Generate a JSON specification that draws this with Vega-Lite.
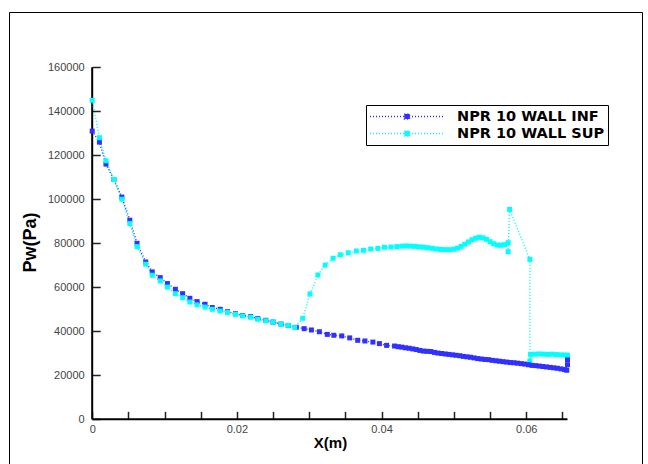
{
  "$schema": "https://vega.github.io/schema/vega-lite/v6.json",
  "width": 633,
  "height": 460,
  "autosize": {"type": "none"},
  "padding": {"left": 9, "top": 12, "right": 6, "bottom": 0},
  "background": "white",
  "config": {"view": {"stroke": "black", "strokeWidth": 1}},
  "datasets": {
    "axes": [
      {"x": 0, "p": 0, "x2": 0.0657, "p2": 0},
      {"x": 0, "p": 0, "x2": 0, "p2": 160000}
    ],
    "curves": [
      {"s": "NPR 10 WALL INF", "i": 0, "x": 0, "p": 131000},
      {"s": "NPR 10 WALL INF", "i": 1, "x": 0.001, "p": 126000},
      {"s": "NPR 10 WALL INF", "i": 2, "x": 0.0019, "p": 116000},
      {"s": "NPR 10 WALL INF", "i": 3, "x": 0.003, "p": 109000},
      {"s": "NPR 10 WALL INF", "i": 4, "x": 0.0041, "p": 101000},
      {"s": "NPR 10 WALL INF", "i": 5, "x": 0.0052, "p": 90500},
      {"s": "NPR 10 WALL INF", "i": 6, "x": 0.0062, "p": 80000},
      {"s": "NPR 10 WALL INF", "i": 7, "x": 0.0074, "p": 71500},
      {"s": "NPR 10 WALL INF", "i": 8, "x": 0.0083, "p": 67000},
      {"s": "NPR 10 WALL INF", "i": 9, "x": 0.0094, "p": 64400},
      {"s": "NPR 10 WALL INF", "i": 10, "x": 0.0104, "p": 61700},
      {"s": "NPR 10 WALL INF", "i": 11, "x": 0.0115, "p": 59100},
      {"s": "NPR 10 WALL INF", "i": 12, "x": 0.0125, "p": 57100},
      {"s": "NPR 10 WALL INF", "i": 13, "x": 0.0135, "p": 55000},
      {"s": "NPR 10 WALL INF", "i": 14, "x": 0.0145, "p": 53500},
      {"s": "NPR 10 WALL INF", "i": 15, "x": 0.0156, "p": 52300},
      {"s": "NPR 10 WALL INF", "i": 16, "x": 0.0166, "p": 50800},
      {"s": "NPR 10 WALL INF", "i": 17, "x": 0.0177, "p": 50000},
      {"s": "NPR 10 WALL INF", "i": 18, "x": 0.0187, "p": 48900},
      {"s": "NPR 10 WALL INF", "i": 19, "x": 0.0198, "p": 48000},
      {"s": "NPR 10 WALL INF", "i": 20, "x": 0.0208, "p": 47200},
      {"s": "NPR 10 WALL INF", "i": 21, "x": 0.0219, "p": 46700},
      {"s": "NPR 10 WALL INF", "i": 22, "x": 0.0229, "p": 45800},
      {"s": "NPR 10 WALL INF", "i": 23, "x": 0.024, "p": 45000},
      {"s": "NPR 10 WALL INF", "i": 24, "x": 0.025, "p": 44200},
      {"s": "NPR 10 WALL INF", "i": 25, "x": 0.0261, "p": 43300},
      {"s": "NPR 10 WALL INF", "i": 26, "x": 0.0271, "p": 42600},
      {"s": "NPR 10 WALL INF", "i": 27, "x": 0.0282, "p": 41800},
      {"s": "NPR 10 WALL INF", "i": 28, "x": 0.0293, "p": 41200},
      {"s": "NPR 10 WALL INF", "i": 29, "x": 0.0303, "p": 40600},
      {"s": "NPR 10 WALL INF", "i": 30, "x": 0.0314, "p": 39800},
      {"s": "NPR 10 WALL INF", "i": 31, "x": 0.0325, "p": 38600},
      {"s": "NPR 10 WALL INF", "i": 32, "x": 0.0334, "p": 38200},
      {"s": "NPR 10 WALL INF", "i": 33, "x": 0.0345, "p": 37900},
      {"s": "NPR 10 WALL INF", "i": 34, "x": 0.0356, "p": 37000},
      {"s": "NPR 10 WALL INF", "i": 35, "x": 0.0367, "p": 35900},
      {"s": "NPR 10 WALL INF", "i": 36, "x": 0.0377, "p": 35600},
      {"s": "NPR 10 WALL INF", "i": 37, "x": 0.0388, "p": 35100},
      {"s": "NPR 10 WALL INF", "i": 38, "x": 0.0397, "p": 34400},
      {"s": "NPR 10 WALL INF", "i": 39, "x": 0.0407, "p": 33600},
      {"s": "NPR 10 WALL INF", "i": 40, "x": 0.0418, "p": 33300},
      {"s": "NPR 10 WALL INF", "i": 41, "x": 0.0423, "p": 33000},
      {"s": "NPR 10 WALL INF", "i": 42, "x": 0.0428, "p": 32800},
      {"s": "NPR 10 WALL INF", "i": 43, "x": 0.0433, "p": 32500},
      {"s": "NPR 10 WALL INF", "i": 44, "x": 0.0438, "p": 32300},
      {"s": "NPR 10 WALL INF", "i": 45, "x": 0.0443, "p": 32000},
      {"s": "NPR 10 WALL INF", "i": 46, "x": 0.0448, "p": 31700},
      {"s": "NPR 10 WALL INF", "i": 47, "x": 0.0453, "p": 31300},
      {"s": "NPR 10 WALL INF", "i": 48, "x": 0.0458, "p": 31000},
      {"s": "NPR 10 WALL INF", "i": 49, "x": 0.0463, "p": 30900},
      {"s": "NPR 10 WALL INF", "i": 50, "x": 0.0468, "p": 30800},
      {"s": "NPR 10 WALL INF", "i": 51, "x": 0.0473, "p": 30400},
      {"s": "NPR 10 WALL INF", "i": 52, "x": 0.0478, "p": 30100},
      {"s": "NPR 10 WALL INF", "i": 53, "x": 0.0483, "p": 29900},
      {"s": "NPR 10 WALL INF", "i": 54, "x": 0.0488, "p": 29700},
      {"s": "NPR 10 WALL INF", "i": 55, "x": 0.0493, "p": 29500},
      {"s": "NPR 10 WALL INF", "i": 56, "x": 0.0498, "p": 29300},
      {"s": "NPR 10 WALL INF", "i": 57, "x": 0.0503, "p": 29100},
      {"s": "NPR 10 WALL INF", "i": 58, "x": 0.0508, "p": 28900},
      {"s": "NPR 10 WALL INF", "i": 59, "x": 0.0513, "p": 28600},
      {"s": "NPR 10 WALL INF", "i": 60, "x": 0.0518, "p": 28400},
      {"s": "NPR 10 WALL INF", "i": 61, "x": 0.0523, "p": 28200},
      {"s": "NPR 10 WALL INF", "i": 62, "x": 0.0528, "p": 27900},
      {"s": "NPR 10 WALL INF", "i": 63, "x": 0.0533, "p": 27600},
      {"s": "NPR 10 WALL INF", "i": 64, "x": 0.0538, "p": 27400},
      {"s": "NPR 10 WALL INF", "i": 65, "x": 0.0543, "p": 27200},
      {"s": "NPR 10 WALL INF", "i": 66, "x": 0.0548, "p": 27100},
      {"s": "NPR 10 WALL INF", "i": 67, "x": 0.0553, "p": 26800},
      {"s": "NPR 10 WALL INF", "i": 68, "x": 0.0558, "p": 26600},
      {"s": "NPR 10 WALL INF", "i": 69, "x": 0.0563, "p": 26400},
      {"s": "NPR 10 WALL INF", "i": 70, "x": 0.0568, "p": 26200},
      {"s": "NPR 10 WALL INF", "i": 71, "x": 0.0573, "p": 26000},
      {"s": "NPR 10 WALL INF", "i": 72, "x": 0.0578, "p": 25800},
      {"s": "NPR 10 WALL INF", "i": 73, "x": 0.0583, "p": 25700},
      {"s": "NPR 10 WALL INF", "i": 74, "x": 0.0588, "p": 25500},
      {"s": "NPR 10 WALL INF", "i": 75, "x": 0.0593, "p": 25300},
      {"s": "NPR 10 WALL INF", "i": 76, "x": 0.0598, "p": 25100},
      {"s": "NPR 10 WALL INF", "i": 77, "x": 0.0603, "p": 24800},
      {"s": "NPR 10 WALL INF", "i": 78, "x": 0.0608, "p": 24500},
      {"s": "NPR 10 WALL INF", "i": 79, "x": 0.0613, "p": 24400},
      {"s": "NPR 10 WALL INF", "i": 80, "x": 0.0618, "p": 24200},
      {"s": "NPR 10 WALL INF", "i": 81, "x": 0.0623, "p": 24000},
      {"s": "NPR 10 WALL INF", "i": 82, "x": 0.0628, "p": 23800},
      {"s": "NPR 10 WALL INF", "i": 83, "x": 0.0633, "p": 23600},
      {"s": "NPR 10 WALL INF", "i": 84, "x": 0.0638, "p": 23400},
      {"s": "NPR 10 WALL INF", "i": 85, "x": 0.0643, "p": 23200},
      {"s": "NPR 10 WALL INF", "i": 86, "x": 0.0648, "p": 22900},
      {"s": "NPR 10 WALL INF", "i": 87, "x": 0.0653, "p": 22600},
      {"s": "NPR 10 WALL INF", "i": 88, "x": 0.0656, "p": 22300},
      {"s": "NPR 10 WALL INF", "i": 89, "x": 0.0657, "p": 24800},
      {"s": "NPR 10 WALL INF", "i": 90, "x": 0.0657, "p": 27000},
      {"s": "NPR 10 WALL SUP", "i": 0, "x": 0, "p": 145000},
      {"s": "NPR 10 WALL SUP", "i": 1, "x": 0.001, "p": 128000},
      {"s": "NPR 10 WALL SUP", "i": 2, "x": 0.0019, "p": 117500},
      {"s": "NPR 10 WALL SUP", "i": 3, "x": 0.003, "p": 109000},
      {"s": "NPR 10 WALL SUP", "i": 4, "x": 0.0041, "p": 100000},
      {"s": "NPR 10 WALL SUP", "i": 5, "x": 0.0052, "p": 89000},
      {"s": "NPR 10 WALL SUP", "i": 6, "x": 0.0062, "p": 78500},
      {"s": "NPR 10 WALL SUP", "i": 7, "x": 0.0074, "p": 70500},
      {"s": "NPR 10 WALL SUP", "i": 8, "x": 0.0083, "p": 65500},
      {"s": "NPR 10 WALL SUP", "i": 9, "x": 0.0094, "p": 62900},
      {"s": "NPR 10 WALL SUP", "i": 10, "x": 0.0104, "p": 60100},
      {"s": "NPR 10 WALL SUP", "i": 11, "x": 0.0115, "p": 57100},
      {"s": "NPR 10 WALL SUP", "i": 12, "x": 0.0125, "p": 55300},
      {"s": "NPR 10 WALL SUP", "i": 13, "x": 0.0135, "p": 53300},
      {"s": "NPR 10 WALL SUP", "i": 14, "x": 0.0145, "p": 52000},
      {"s": "NPR 10 WALL SUP", "i": 15, "x": 0.0156, "p": 51000},
      {"s": "NPR 10 WALL SUP", "i": 16, "x": 0.0166, "p": 50000},
      {"s": "NPR 10 WALL SUP", "i": 17, "x": 0.0177, "p": 49200},
      {"s": "NPR 10 WALL SUP", "i": 18, "x": 0.0187, "p": 48500},
      {"s": "NPR 10 WALL SUP", "i": 19, "x": 0.0198, "p": 47700},
      {"s": "NPR 10 WALL SUP", "i": 20, "x": 0.0208, "p": 47000},
      {"s": "NPR 10 WALL SUP", "i": 21, "x": 0.0219, "p": 46400},
      {"s": "NPR 10 WALL SUP", "i": 22, "x": 0.0229, "p": 45500},
      {"s": "NPR 10 WALL SUP", "i": 23, "x": 0.024, "p": 44800},
      {"s": "NPR 10 WALL SUP", "i": 24, "x": 0.025, "p": 44300},
      {"s": "NPR 10 WALL SUP", "i": 25, "x": 0.0261, "p": 43200},
      {"s": "NPR 10 WALL SUP", "i": 26, "x": 0.0271, "p": 42700},
      {"s": "NPR 10 WALL SUP", "i": 27, "x": 0.028, "p": 41700},
      {"s": "NPR 10 WALL SUP", "i": 28, "x": 0.0291, "p": 45900},
      {"s": "NPR 10 WALL SUP", "i": 29, "x": 0.0301, "p": 57000},
      {"s": "NPR 10 WALL SUP", "i": 30, "x": 0.0312, "p": 65600},
      {"s": "NPR 10 WALL SUP", "i": 31, "x": 0.0322, "p": 70100},
      {"s": "NPR 10 WALL SUP", "i": 32, "x": 0.0333, "p": 73200},
      {"s": "NPR 10 WALL SUP", "i": 33, "x": 0.0343, "p": 74800},
      {"s": "NPR 10 WALL SUP", "i": 34, "x": 0.0354, "p": 75700},
      {"s": "NPR 10 WALL SUP", "i": 35, "x": 0.0365, "p": 76500},
      {"s": "NPR 10 WALL SUP", "i": 36, "x": 0.0375, "p": 76800},
      {"s": "NPR 10 WALL SUP", "i": 37, "x": 0.0385, "p": 77400},
      {"s": "NPR 10 WALL SUP", "i": 38, "x": 0.0395, "p": 77700},
      {"s": "NPR 10 WALL SUP", "i": 39, "x": 0.0404, "p": 78200},
      {"s": "NPR 10 WALL SUP", "i": 40, "x": 0.0413, "p": 78300},
      {"s": "NPR 10 WALL SUP", "i": 41, "x": 0.0421, "p": 78500},
      {"s": "NPR 10 WALL SUP", "i": 42, "x": 0.0428, "p": 78700},
      {"s": "NPR 10 WALL SUP", "i": 43, "x": 0.0434, "p": 78800},
      {"s": "NPR 10 WALL SUP", "i": 44, "x": 0.044, "p": 78700},
      {"s": "NPR 10 WALL SUP", "i": 45, "x": 0.0446, "p": 78600},
      {"s": "NPR 10 WALL SUP", "i": 46, "x": 0.0452, "p": 78400},
      {"s": "NPR 10 WALL SUP", "i": 47, "x": 0.0458, "p": 78200},
      {"s": "NPR 10 WALL SUP", "i": 48, "x": 0.0464, "p": 78000},
      {"s": "NPR 10 WALL SUP", "i": 49, "x": 0.047, "p": 77700},
      {"s": "NPR 10 WALL SUP", "i": 50, "x": 0.0476, "p": 77400},
      {"s": "NPR 10 WALL SUP", "i": 51, "x": 0.0482, "p": 77200},
      {"s": "NPR 10 WALL SUP", "i": 52, "x": 0.0488, "p": 77100},
      {"s": "NPR 10 WALL SUP", "i": 53, "x": 0.0494, "p": 77100},
      {"s": "NPR 10 WALL SUP", "i": 54, "x": 0.05, "p": 77300},
      {"s": "NPR 10 WALL SUP", "i": 55, "x": 0.0505, "p": 77800},
      {"s": "NPR 10 WALL SUP", "i": 56, "x": 0.051, "p": 78600},
      {"s": "NPR 10 WALL SUP", "i": 57, "x": 0.0515, "p": 79600},
      {"s": "NPR 10 WALL SUP", "i": 58, "x": 0.052, "p": 80600},
      {"s": "NPR 10 WALL SUP", "i": 59, "x": 0.0525, "p": 81600},
      {"s": "NPR 10 WALL SUP", "i": 60, "x": 0.053, "p": 82300},
      {"s": "NPR 10 WALL SUP", "i": 61, "x": 0.0535, "p": 82700},
      {"s": "NPR 10 WALL SUP", "i": 62, "x": 0.054, "p": 82500},
      {"s": "NPR 10 WALL SUP", "i": 63, "x": 0.0545, "p": 81800},
      {"s": "NPR 10 WALL SUP", "i": 64, "x": 0.055, "p": 80700},
      {"s": "NPR 10 WALL SUP", "i": 65, "x": 0.0555, "p": 79800},
      {"s": "NPR 10 WALL SUP", "i": 66, "x": 0.056, "p": 79200},
      {"s": "NPR 10 WALL SUP", "i": 67, "x": 0.0565, "p": 79100},
      {"s": "NPR 10 WALL SUP", "i": 68, "x": 0.057, "p": 79400},
      {"s": "NPR 10 WALL SUP", "i": 69, "x": 0.0575, "p": 80300},
      {"s": "NPR 10 WALL SUP", "i": 70, "x": 0.0575, "p": 76200},
      {"s": "NPR 10 WALL SUP", "i": 71, "x": 0.0577, "p": 95400},
      {"s": "NPR 10 WALL SUP", "i": 72, "x": 0.0605, "p": 72700},
      {"s": "NPR 10 WALL SUP", "i": 73, "x": 0.0605, "p": 26500},
      {"s": "NPR 10 WALL SUP", "i": 74, "x": 0.0606, "p": 29500},
      {"s": "NPR 10 WALL SUP", "i": 75, "x": 0.0612, "p": 29600},
      {"s": "NPR 10 WALL SUP", "i": 76, "x": 0.0618, "p": 29700},
      {"s": "NPR 10 WALL SUP", "i": 77, "x": 0.0624, "p": 29600},
      {"s": "NPR 10 WALL SUP", "i": 78, "x": 0.063, "p": 29500},
      {"s": "NPR 10 WALL SUP", "i": 79, "x": 0.0636, "p": 29600},
      {"s": "NPR 10 WALL SUP", "i": 80, "x": 0.0642, "p": 29400},
      {"s": "NPR 10 WALL SUP", "i": 81, "x": 0.0648, "p": 29300},
      {"s": "NPR 10 WALL SUP", "i": 82, "x": 0.0654, "p": 29200},
      {"s": "NPR 10 WALL SUP", "i": 83, "x": 0.0657, "p": 29100}
    ]
  },
  "layer": [
    {
      "data": {"name": "axes"},
      "mark": {"type": "rule", "color": "black", "strokeWidth": 2},
      "encoding": {
        "x": {"field": "x", "type": "quantitative", "title": "X(m)", "scale": {"domain": [-0.0115, 0.076], "nice": false, "zero": false}},
        "x2": {"field": "x2"},
        "y": {"field": "p", "type": "quantitative", "title": "Pw(Pa)", "scale": {"domain": [-23955, 185136], "nice": false, "zero": false}},
        "y2": {"field": "p2"}
      }
    },
    {
      "data": {"name": "curves"},
      "mark": {"type": "line", "strokeWidth": 1.5, "point": {"shape": "square", "filled": true, "size": 25}},
      "encoding": {
        "x": {
          "field": "x", "type": "quantitative", "title": "X(m)",
          "scale": {"domain": [-0.0115, 0.076], "nice": false, "zero": false},
          "axis": {
            "orient": "top", "offset": -407.3, "domain": false, "grid": false, "ticks": true,
            "values": [0, 0.005, 0.01, 0.015, 0.02, 0.025, 0.03, 0.035, 0.04, 0.045, 0.05, 0.055, 0.06, 0.065],
            "labelExpr": "abs(datum.value*50-round(datum.value*50))<1e-6 ? format(datum.value,'~g') : ''",
            "tickSize": 8, "tickWidth": 1.5, "tickColor": "#222222", "tickOpacity": 1,
            "labelPadding": -12, "labelBaseline": "top", "labelAlign": "center",
            "labelFont": "Liberation Sans", "labelFontSize": 11, "labelColor": "#444444",
            "labelFlush": false, "labelOverlap": false, "labelBound": false,
            "titleFont": "Liberation Sans", "titleFontSize": 15, "titleFontWeight": "bold", "titleColor": "black",
            "titleX": 321, "titleY": 28, "titleBaseline": "alphabetic", "titleAlign": "center", "titleAngle": 0
          }
        },
        "y": {
          "field": "p", "type": "quantitative", "title": "Pw(Pa)",
          "scale": {"domain": [-23955, 185136], "nice": false, "zero": false},
          "axis": {
            "orient": "right", "offset": -549.8, "domain": false, "grid": false, "ticks": true,
            "values": [0, 5000, 10000, 15000, 20000, 25000, 30000, 35000, 40000, 45000, 50000, 55000, 60000, 65000, 70000, 75000, 80000, 85000, 90000, 95000, 100000, 105000, 110000, 115000, 120000, 125000, 130000, 135000, 140000, 145000, 150000, 155000, 160000],
            "labelExpr": "datum.value % 20000 === 0 ? format(datum.value,'d') : ''",
            "tickSize": 8, "tickWidth": 1.5, "tickColor": "#222222", "tickOpacity": 1,
            "labelPadding": -16, "labelAlign": "right", "labelBaseline": "middle",
            "labelFont": "Liberation Sans", "labelFontSize": 11, "labelColor": "#444444",
            "labelFlush": false, "labelOverlap": false, "labelBound": false,
            "titleFont": "Liberation Sans", "titleFontSize": 18, "titleFontWeight": "bold", "titleColor": "black",
            "titleX": -57, "titleY": 230, "titleBaseline": "alphabetic", "titleAlign": "center", "titleAngle": -90
          }
        },
        "color": {
          "field": "s", "type": "nominal",
          "scale": {"domain": ["NPR 10 WALL INF", "NPR 10 WALL SUP"], "range": ["#3030ff", "#00ffff"]},
          "legend": {
            "orient": "none", "legendX": 357, "legendY": 93, "title": null,
            "strokeColor": "black", "padding": 3, "fillColor": "white",
            "symbolType": "M-1,0H1M-0.07,-0.07H0.07V0.07H-0.07Z", "symbolSize": 5476,
            "symbolStrokeWidth": 1.5, "symbolDash": [1, 2],
            "clipHeight": 17, "rowPadding": 0, "labelOffset": 12,
            "labelFont": "DejaVu Sans", "labelFontWeight": "bold", "labelFontSize": 14.5, "labelColor": "black", "labelLimit": 300
          }
        },
        "strokeDash": {"value": [1, 2]},
        "order": {"field": "i", "type": "quantitative"}
      }
    }
  ]
}
